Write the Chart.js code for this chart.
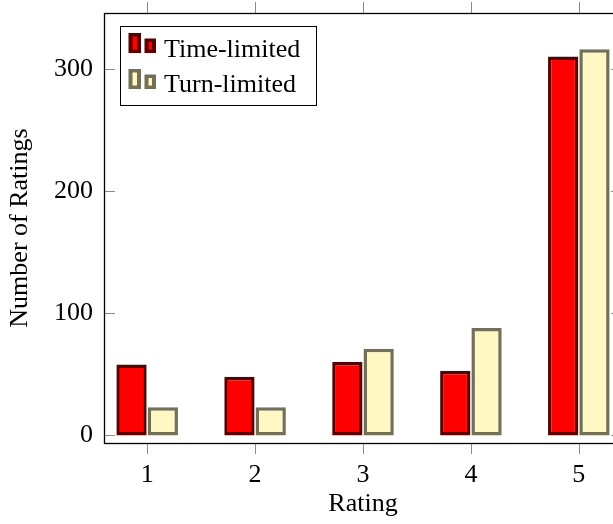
<!DOCTYPE html>
<html>
<head>
<meta charset="utf-8">
<script src="https://cdn.jsdelivr.net/npm/chart.js@4.4.1/dist/chart.umd.min.js"></script>
<style>
  html, body { margin: 0; padding: 0; background: #fff; overflow: hidden; }
  #wrap { width: 613px; height: 524px; overflow: hidden; }
  canvas { display: block; }
</style>
</head>
<body>
<div id="wrap"><canvas id="ratingsChart" width="640" height="524"></canvas></div>
<script>
// data
const ratings = [1, 2, 3, 4, 5];
const timeLimited = [58, 48, 60, 53, 310];
const turnLimited = [23, 23, 71, 88, 316];
const yTicks = [0, 100, 200, 300];
const seriesNames = ['Time-limited', 'Turn-limited'];

const serif = "'Liberation Serif', 'Times New Roman', serif";
const font = { family: serif, size: 26 };

const toPoints = vals => ratings.map((r, i) => ({ x: r, y: vals[i] }));

// tick marks like pgfplots: x ticks outside (top and bottom), y ticks inside
const tickPlugin = {
  id: 'tickMarks',
  beforeDatasetsDraw(chart) {
    const { ctx, chartArea: a, scales: { x, y } } = chart;
    ctx.save();
    ctx.lineWidth = 1;
    ctx.strokeStyle = '#8a8a8a';
    ctx.beginPath();
    ratings.forEach(r => {
      const px = Math.round(x.getPixelForValue(r)) + 0.5;
      ctx.moveTo(px, a.bottom); ctx.lineTo(px, a.bottom + 11);
      ctx.moveTo(px, a.top); ctx.lineTo(px, a.top - 11);
    });
    yTicks.forEach(v => {
      const py = Math.round(y.getPixelForValue(v)) + 0.5;
      ctx.moveTo(a.left, py); ctx.lineTo(a.left + 11, py);
      ctx.moveTo(a.right, py); ctx.lineTo(a.right - 11, py);
    });
    ctx.stroke();
    ctx.restore();
  },
  afterDatasetsDraw(chart) {
    const { ctx, chartArea: a } = chart;
    ctx.save();
    ctx.strokeStyle = '#000';
    ctx.lineWidth = 1.3;
    ctx.strokeRect(a.left + 0.5, a.top + 0.5, a.right - a.left, a.bottom - a.top);
    ctx.restore();
  }
};

function iconBar(ctx, x, y, w, h, ds) {
  ctx.fillStyle = ds.borderColor;
  ctx.fillRect(x, y, w, h);
  ctx.fillStyle = ds.backgroundColor;
  ctx.fillRect(x + 4, y + 3.5, w - 8, h - 7);
}

// boxed legend in the upper left of the plot
const legendPlugin = {
  id: 'boxLegend',
  afterDraw(chart) {
    const { ctx } = chart;
    ctx.save();
    ctx.fillStyle = '#fff';
    ctx.fillRect(120.5, 26.5, 196, 79);
    ctx.strokeStyle = '#000';
    ctx.lineWidth = 1;
    ctx.strokeRect(120.5, 26.5, 196, 79);
    ctx.font = `${font.size}px ${serif}`;
    ctx.textBaseline = 'alphabetic';
    chart.data.datasets.forEach((ds, i) => {
      const top = 33 + i * 36;
      iconBar(ctx, 128.5, top, 12.5, 20, ds);
      iconBar(ctx, 144.5, top + 5.5, 11.5, 14.5, ds);
      ctx.fillStyle = '#000';
      ctx.fillText(ds.label, 164, 56.5 + i * 35.5);
    });
    ctx.restore();
  }
};

const noPad = s => { s.paddingTop = 0; s.paddingBottom = 0; s.paddingLeft = 0; s.paddingRight = 0; };

const ctxRatings = document.getElementById('ratingsChart').getContext('2d');
const ratingsChart = new Chart(ctxRatings, {
  type: 'bar',
  data: {
    datasets: [{
      label: seriesNames[0],
      data: toPoints(timeLimited),
      backgroundColor: '#ff0000',
      borderColor: '#5a0000',
      borderWidth: 3.5,
      borderSkipped: false,
      categoryPercentage: 0.58,
      barPercentage: 0.968
    }, {
      label: seriesNames[1],
      data: toPoints(turnLimited),
      backgroundColor: '#fff8c3',
      borderColor: '#747058',
      borderWidth: 3.5,
      borderSkipped: false,
      categoryPercentage: 0.58,
      barPercentage: 0.968
    }]
  },
  options: {
    responsive: false,
    animation: false,
    layout: { padding: { top: 13, right: 18, bottom: 0, left: 0 } },
    plugins: {
      legend: { display: false },
      tooltip: { enabled: false }
    },
    scales: {
      x: {
        type: 'linear',
        offset: false,
        min: 0.6,
        max: 5.4,
        grid: { display: false, drawTicks: false, offset: false },
        border: { display: false },
        afterBuildTicks: s => { s.ticks = ratings.map(v => ({ value: v })); },
        afterFit: s => { s.height = 81; noPad(s); },
        ticks: { font: font, color: '#000', padding: 17, maxRotation: 0 },
        title: { display: true, text: 'Rating', font: font, color: '#000', padding: { top: 0, bottom: 4 } }
      },
      y: {
        min: -6.2,
        max: 345.7,
        grid: { display: false, drawTicks: false },
        border: { display: false },
        afterBuildTicks: s => { s.ticks = yTicks.map(v => ({ value: v })); },
        afterFit: s => { s.width = 104; noPad(s); },
        ticks: { font: font, color: '#000', padding: 11 },
        title: { display: true, text: 'Number of Ratings', font: font, color: '#000', padding: { top: 5, bottom: 0 } }
      }
    }
  },
  plugins: [tickPlugin, legendPlugin]
});
</script>
</body>
</html>
